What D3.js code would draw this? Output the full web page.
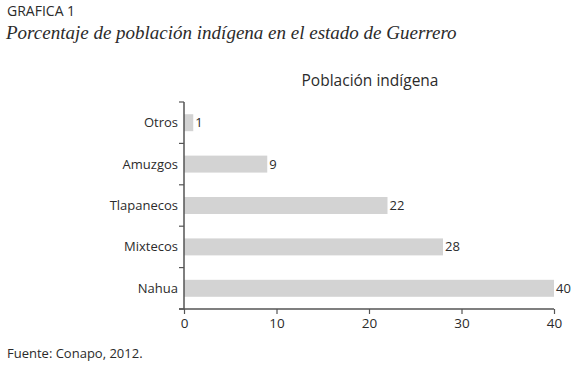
<!DOCTYPE html>
<html>
<head>
<meta charset="utf-8">
<script src="https://cdn.jsdelivr.net/npm/d3@7"></script>
<style>
  body { margin: 0; background: #fff; }
  svg { display: block; }
</style>
</head>
<body>
<div id="chart"></div>
<script>
// Datos
const grupos = ["Otros", "Amuzgos", "Tlapanecos", "Mixtecos", "Nahua"];
const porcentajes = [1, 9, 22, 28, 40];
const xTicks = [0, 10, 20, 30, 40];

const width = 580, height = 369;
const margin = { top: 102, right: 26, bottom: 60, left: 184 };
const innerW = 554 - margin.left;
const innerH = 309 - margin.top;

const svg = d3.select("#chart").append("svg")
  .attr("width", width)
  .attr("height", height);

const sans = "'Open Sans', 'Noto Sans', sans-serif";
const txt = "#2b2b2b";
const axisColor = "#555";

// Encabezado
svg.append("text")
  .attr("x", 7).attr("y", 16)
  .style("font-family", sans).style("font-size", "14px").style("font-weight", 500)
  .attr("fill", txt)
  .text("GRAFICA 1");

svg.append("text")
  .attr("x", 6).attr("y", 39)
  .style("font-family", "'Liberation Serif', 'DejaVu Serif', serif")
  .style("font-size", "19px").style("font-style", "italic")
  .attr("fill", txt)
  .text("Porcentaje de población indígena en el estado de Guerrero");

const g = svg.append("g").attr("transform", `translate(${margin.left},${margin.top})`);

const x = d3.scaleLinear().domain([0, 40]).range([0, innerW]);
const y = d3.scaleBand().domain(grupos).range([0, innerH]).paddingInner(0.59).paddingOuter(0.295);

// Titulo del grafico
svg.append("text")
  .attr("x", 370).attr("y", 86)
  .attr("text-anchor", "middle")
  .style("font-family", sans).style("font-size", "15.5px")
  .attr("fill", txt)
  .text("Población indígena");

// Barras
g.selectAll("rect.bar")
  .data(grupos)
  .join("rect")
  .attr("class", "bar")
  .attr("x", 0)
  .attr("y", d => y(d))
  .attr("width", (d, i) => x(porcentajes[i]))
  .attr("height", y.bandwidth())
  .attr("fill", "#d3d3d3");

// Etiquetas de valor
g.selectAll("text.val")
  .data(grupos)
  .join("text")
  .attr("class", "val")
  .attr("x", (d, i) => x(porcentajes[i]) + 2)
  .attr("y", d => y(d) + y.bandwidth() / 2)
  .attr("dy", "0.35em")
  .style("font-family", sans).style("font-size", "13px")
  .attr("fill", txt)
  .text((d, i) => porcentajes[i]);

// Ejes
const xAxis = g.append("g")
  .attr("transform", `translate(0,${innerH})`)
  .call(d3.axisBottom(x).tickValues(xTicks).tickSize(5).tickPadding(4));

// Eje Y con ticks en los limites de las bandas
const bandEdges = d3.range(grupos.length + 1).map(i => i * innerH / grupos.length);
const yAxis = g.append("g");
yAxis.append("line")
  .attr("x1", 0).attr("x2", 0).attr("y1", 0).attr("y2", innerH)
  .attr("stroke", axisColor).attr("stroke-width", 1.5);
yAxis.selectAll("line.tk")
  .data(bandEdges)
  .join("line")
  .attr("class", "tk")
  .attr("x1", -5).attr("x2", 0)
  .attr("y1", d => d).attr("y2", d => d)
  .attr("stroke", axisColor).attr("stroke-width", 1.2);
yAxis.selectAll("text")
  .data(grupos)
  .join("text")
  .attr("x", -6)
  .attr("y", d => y(d) + y.bandwidth() / 2)
  .attr("dy", "0.35em")
  .attr("text-anchor", "end")
  .style("font-family", sans).style("font-size", "13px")
  .attr("fill", txt)
  .text(d => d);

xAxis.select(".domain").attr("stroke", axisColor).attr("stroke-width", 1.5)
  .attr("d", `M-5,0H${innerW}`);
xAxis.selectAll(".tick line").attr("stroke", axisColor).attr("stroke-width", 1.2);
xAxis.selectAll(".tick text")
  .style("font-family", sans).style("font-size", "13.5px")
  .attr("fill", txt);

// Fuente
svg.append("text")
  .attr("x", 7).attr("y", 358)
  .style("font-family", sans).style("font-size", "13px")
  .attr("fill", txt)
  .text("Fuente: Conapo, 2012.");
</script>
</body>
</html>
